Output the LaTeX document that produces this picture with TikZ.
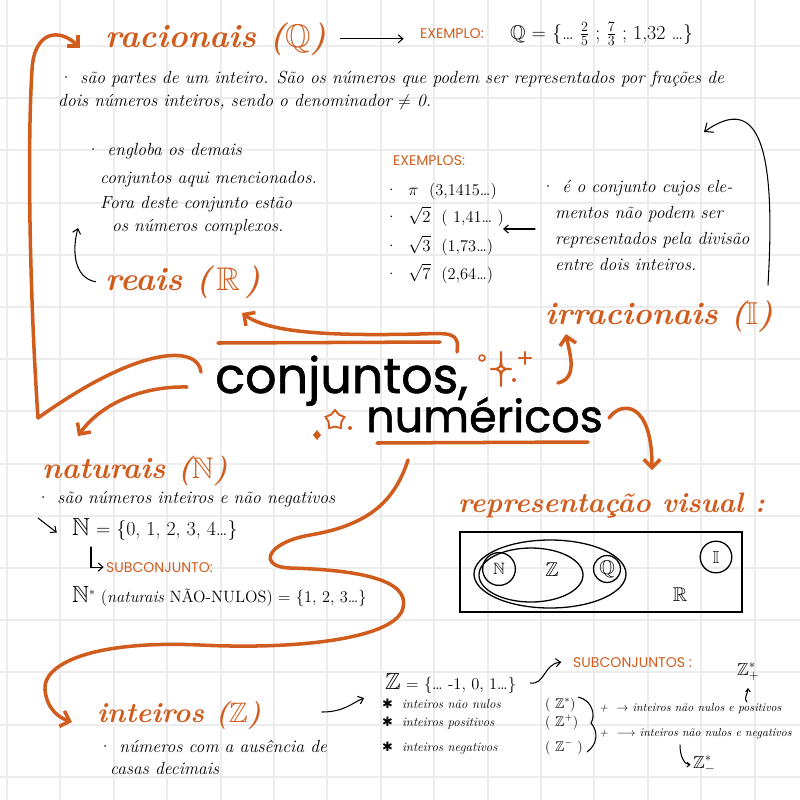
\documentclass[tikz,border=0pt]{standalone}
\usepackage{amsmath,amssymb}
\usepackage{fontspec}
\newfontfamily\poppins{Poppins}
\newfontfamily\poppinsforte{Poppins}[FakeBold=1.2]
\newfontfamily\dejavu{DejaVu Sans}
\usepackage{xcolor}
\usetikzlibrary{arrows.meta,positioning,calc,shapes.geometric}

\definecolor{laranja}{RGB}{208,93,30}
\definecolor{grade}{RGB}{236,236,236}

\tikzset{
	titulo/.style={text=laranja,font=\bfseries\itshape\fontsize{28}{30}\selectfont,inner sep=0pt,anchor=base west},
	texto/.style={font=\itshape\fontsize{15}{17}\selectfont,inner sep=0pt,anchor=base west},
	textinho/.style={font=\itshape\fontsize{11}{13}\selectfont,inner sep=0pt,anchor=base west},
	conta/.style={font=\fontsize{14}{16}\selectfont,inner sep=0pt,anchor=base west},
	caixa/.style={text=laranja,font=\poppins\fontsize{12}{14}\selectfont,inner sep=0pt,anchor=base west},
	grande/.style={font=\poppinsforte\fontsize{42}{44}\selectfont,inner sep=0pt,anchor=base west},
	seta/.style={line width=0.9pt,line cap=round,-{Straight Barb[length=4pt,width=7pt]}},
	setaL/.style={draw=laranja,line width=3pt,line cap=round,line join=round,-{Straight Barb[length=7pt,width=14pt]}},
	traco/.style={draw=laranja,line width=3pt,line cap=round},
	brilho/.style={draw=laranja,line width=1.8pt,line cap=round,line join=round},
	venn/.style={draw,line width=1.1pt},
}

\begin{document}
\begin{tikzpicture}[x=0.03cm,y=-0.03cm]
	% page and grid
	\fill[white] (0,0) rectangle (800,800);
	\useasboundingbox (0,0) rectangle (800,800);
	\foreach \k in {0,...,14}{
		\draw[grade,line width=1.6pt] ({7+53.4*\k},0) -- ({7+53.4*\k},800);
		\draw[grade,line width=1.6pt] (0,{46+52.2*\k}) -- (800,{46+52.2*\k});
	}
	
	% titulo
	\node[grande] (conj) at (215,393) {conjuntos,};
	\node[grande,font=\poppinsforte\fontsize{38}{40}\selectfont] (num) at (366,432) {numéricos};
	\coordinate (sobre1) at (218,343);
	\coordinate (sobre2) at (440,342);
	\coordinate (sob1) at (377,443);
	\coordinate (sob2) at (588,442);
	\draw[traco] (sobre1) -- (sobre2);
	\draw[traco] (sob1) -- (sob2);
	
	% brilhos
	\draw[brilho] (501,352) .. controls (501,369) .. (511,369) .. controls (501,369) .. (501,386) .. controls (501,369) .. (491,369) .. controls (501,369) .. cycle;
	\draw[brilho] (525,352) -- (525,364) (519,358) -- (531,358);
	\draw[laranja,line width=1.3pt] (482,358) circle (3);
	\fill[laranja] (514,380) circle (2);
	\node[star,star points=5,draw=laranja,line width=1.6pt,minimum size=17pt,inner sep=0pt] (estrela) at (335,420) {};
	\fill[laranja] (350,428) circle (2);
	\fill[laranja] (317,430) -- (321,435) -- (317,440) -- (313,435) -- cycle;
	
	% racionais
	\node[titulo] (rac) at (105,47) {racionais ($\mathbb{Q}$)};
	\node[caixa] (ex) at (420,38) {EXEMPLO:};
	\node[conta,font=\fontsize{17}{19}\selectfont] (exQ) at (510,39) {$\mathbb{Q}$ = \{… $\frac{2}{5}$ ; $\frac{7}{3}$ ; 1,32 …\}};
	\draw[seta] ([xshift=12pt]rac.east) -- ([xshift=-14pt]ex.west |- rac.east);
	\node[texto] (rac1) at (58,83) {·\, são partes de um inteiro. São os números que podem ser representados por frações de};
	\node[texto] (rac2) at (58,106) {dois números inteiros, sendo o denominador $\neq$ 0.};
	
	% reais
	\node[texto] (re1) at (85,155) {·\, engloba os demais};
	\node[texto] (re2) at (100,183) {conjuntos aqui mencionados.};
	\node[texto] (re3) at (100,208) {Fora deste conjunto estão};
	\node[texto] (re4) at (112,231) {os números complexos.};
	\node[titulo] (re) at (105,290) {reais ($\,\mathbb{R}\,$)};
	\coordinate (reA) at (78,228);
	\draw[seta] ([xshift=-8pt]re.west) .. controls +(-22,-4) and +(-6,22) .. (reA);
	
	% irracionais
	\node[caixa] (exs) at (393,165) {EXEMPLOS:};
	\node[conta] (ex1) at (385,195) {· \ $\pi$ \ (3,1415…)};
	\node[conta] (ex2) at (385,222) {· \ $\sqrt{2}$ \ ( 1,41… )};
	\node[conta] (ex3) at (385,251) {· \ $\sqrt{3}$ \ (1,73…)};
	\node[conta] (ex4) at (385,279) {· \ $\sqrt{7}$ \ (2,64…)};
	\node[texto] (ir1) at (540,192) {·\, é o conjunto cujos ele-};
	\node[texto] (ir2) at (555,218) {mentos não podem ser};
	\node[texto] (ir3) at (555,244) {representados pela divisão};
	\node[texto] (ir4) at (555,270) {entre dois inteiros.};
	\coordinate (irA) at (503,229);
	\draw[seta] ($(ir3.west |- irA)+(-20,0)$) -- (irA);
	\node[titulo,font=\bfseries\itshape\fontsize{27}{29}\selectfont] (irr) at (545,324) {irracionais ($\mathbb{I}$)};
	\coordinate (arcA) at (768,285);
	\coordinate (arcB) at (704,132);
	\draw[seta,-{Straight Barb[length=6pt,width=10pt]}] (arcA) .. controls (776,150) and (760,92) .. (arcB);
	\coordinate (irrB) at (558,383);
	\coordinate (irrA) at (566,334);
	\draw[setaL] (irrB) .. controls (578,378) and (570,355) .. (irrA);
	
	% setas laranja
	\coordinate (L1) at (201,372);
	\coordinate (L2) at (38,418);
	\coordinate (L3) at (80,48);
	\draw[setaL] (L1) .. controls (198,345) and (140,345) .. (L2) .. controls (30,300) and (27,150) .. (32,70) .. controls (34,30) and (60,28) .. (L3);
	\coordinate (N1) at (187,387);
	\coordinate (N2) at (78,436);
	\draw[setaL] (N1) .. controls (140,386) and (100,405) .. (N2);
	\coordinate (C1) at (457,352);
	\coordinate (C2) at (242,313);
	\draw[setaL] (C1) .. controls (460,332) and (450,333) .. (420,334) .. controls (330,336) and (270,333) .. (C2);
	\coordinate (V1) at (609,418);
	\coordinate (V2) at (652,470);
	\draw[setaL] (V1) .. controls (622,400) and (652,402) .. (V2);
	\coordinate (S1) at (408,460);
	\coordinate (S2) at (72,722);
	\draw[setaL] (S1) .. controls (395,500) and (370,525) .. (310,535) .. controls (265,543) and (258,567) .. (290,568) .. controls (360,570) and (410,580) .. (403,608) .. controls (396,638) and (300,650) .. (200,645) .. controls (90,640) and (42,665) .. (45,690) .. controls (47,710) and (60,718) .. (S2);
	
	% representacao visual
	\node[titulo,font=\bfseries\itshape\fontsize{24}{26}\selectfont] (rep) at (458,512) {representação visual :};
	\draw[line width=1.2pt] (460,532) rectangle (742,612);
	\draw[venn] (550,574) ellipse [x radius=76, y radius=34];
	\draw[venn] (531,575) ellipse [x radius=52, y radius=27];
	\node[venn,circle,minimum size=28pt,inner sep=0pt,font=\fontsize{14}{16}\selectfont] (vN) at (499,569) {$\mathbb{N}$};
	\node[font=\fontsize{17}{19}\selectfont] (vZ) at (552,570) {$\mathbb{Z}$};
	\node[venn,circle,minimum size=23pt,inner sep=0pt,font=\fontsize{17}{19}\selectfont] (vQ) at (607,569) {$\mathbb{Q}$};
	\node[venn,circle,minimum size=27pt,inner sep=0pt,font=\fontsize{15}{17}\selectfont] (vI) at (716,557) {$\mathbb{I}$};
	\node[font=\fontsize{17}{19}\selectfont] (vR) at (680,595) {$\mathbb{R}$};
	
	% naturais
	\node[titulo,font=\bfseries\itshape\fontsize{25.5}{28}\selectfont] (nat) at (42,478) {naturais ($\mathbb{N}$)};
	\node[texto] (nat1) at (35,503) {·\, são números inteiros e não negativos};
	\node[conta,font=\fontsize{17}{19}\selectfont] (natN) at (72,535) {{\fontsize{21}{23}\selectfont$\mathbb{N}$} = \{0, 1, 2, 3, 4…\}};
	\coordinate (natA) at (38,518);
	\draw[seta] (natA) -- ([xshift=-13pt,yshift=-3pt]natN.west);
	\node[caixa] (sub) at (106,572) {SUBCONJUNTO:};
	\coordinate (natB) at (91,547);
	\draw[seta] (natB) |- ([xshift=-2pt]sub.west);
	\node[conta] (natE) at (72,602) {{\fontsize{20}{22}\selectfont$\mathbb{N}$}$^{*}$ (\textit{naturais} NÃO-NULOS) = \{1, 2, 3…\}};
	
	% inteiros
	\node[titulo,font=\bfseries\itshape\fontsize{24}{26}\selectfont] (int) at (97,722) {inteiros ($\mathbb{Z}$)};
	\node[texto] (int1) at (97,752) {·\, números com a ausência de};
	\node[texto] (int2) at (110,774) {casas decimais};
	\node[conta] (zset) at (385,689) {{\fontsize{20}{22}\selectfont$\mathbb{Z}$} = \{… -1, 0, 1…\}};
	\coordinate (intA) at (322,712);
	\coordinate (intB) at (364,698);
	\draw[seta] (intA) .. controls +(22,0) and +(-12,5) .. (intB);
	\node[caixa] (subs) at (573,667) {SUBCONJUNTOS :};
	\draw[seta] ([xshift=12pt]zset.east) .. controls +(15,2) and +(-18,2) .. ([xshift=-10pt]subs.west);
	\node[conta,font=\fontsize{15}{17}\selectfont] (zmais) at (737,675) {$\mathbb{Z}^{*}_{+}$};
	\coordinate (zA) at (747,702);
	\coordinate (zB) at (748,688);
	\draw[seta,-{Straight Barb[length=2.5pt,width=4pt]}] (zA) .. controls +(-4,-3) and +(0,5) .. (zB);
	\node[textinho] (l1) at (382,708) {{\dejavu\upshape ✱}\ \ inteiros não nulos};
	\node[textinho] (l2) at (382,726) {{\dejavu\upshape ✱}\ \ inteiros positivos};
	\node[textinho] (l3) at (382,751) {{\dejavu\upshape ✱}\ \ inteiros negativos};
	\node[conta,font=\fontsize{12}{14}\selectfont] (p1) at (545,708) {( $\mathbb{Z}^{*}$)};
	\node[conta,font=\fontsize{12}{14}\selectfont] (p2) at (545,726) {( $\mathbb{Z}^{+}$)};
	\node[conta,font=\fontsize{12}{14}\selectfont] (p3) at (545,751) {( $\mathbb{Z}^{-}$ )};
	\coordinate (b1) at (578,697);
	\coordinate (b2) at (591,723);
	\coordinate (b3) at (587,752);
	\draw[line width=0.9pt] (b1) .. controls (592,700) and (596,715) .. (b2) .. controls (599,732) and (597,745) .. (b3);
	\node[textinho,font=\itshape\fontsize{10}{12}\selectfont] (r1) at (599,711) {+ \ $\rightarrow$ inteiros não nulos e positivos};
	\node[textinho,font=\itshape\fontsize{10}{12}\selectfont] (r2) at (599,736) {+ \ $\longrightarrow$ inteiros não nulos e negativos};
	\node[conta,font=\fontsize{15}{17}\selectfont] (zmenos) at (693,768) {$\mathbb{Z}^{*}_{-}$};
	\coordinate (hA) at (680,745);
	\draw[seta,-{Straight Barb[length=2.5pt,width=4pt]}] (hA) .. controls +(0,12) and +(-6,0) .. ([xshift=-2pt]zmenos.west);
\end{tikzpicture}
\end{document}
